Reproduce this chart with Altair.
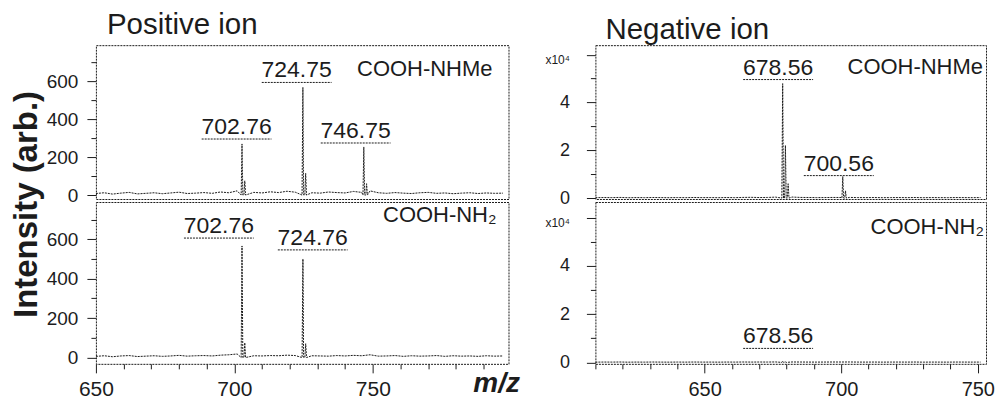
import altair as alt
import pandas as pd

FONT = "Liberation Sans"
INK = "#1c1c1c"
DOT = [2, 1]

# ---------------- data ----------------
# baseline sampling positions (m/z)
POS_GRID = [650, 653, 656, 659, 662, 665, 668, 671, 674, 677,
            680, 683, 686, 689, 692, 695, 698, 701, 704, 707,
            710, 713, 716, 719, 722, 725, 728, 731, 734, 737,
            740, 743, 746, 749, 752, 755, 758, 761, 764, 767,
            770, 773, 776, 779, 782, 785, 788, 791, 794, 797]
NEG_GRID = [610, 613, 616, 619, 622, 625, 628, 631, 634, 637,
            640, 643, 646, 649, 652, 655, 658, 661, 664, 667,
            670, 673, 676, 679, 682, 685, 688, 691, 694, 697,
            700, 703, 706, 709, 712, 715, 718, 721, 724, 727,
            730, 733, 736, 739, 742, 745, 748, 751]

# baseline noise (arb. / counts)
POS_TOP_NOISE = [8, 12, 5, 10, 14, 6, 9, 12, 7, 11, 15, 8, 10, 13, 9, 16, 12, 22, 18, 14,
                 11, 17, 13, 20, 15, 24, 12, 10, 16, 13, 11, 19, 14, 22, 12, 9, 13, 10, 8, 12,
                 14, 9, 11, 7, 10, 12, 8, 11, 9, 10]
POS_BOT_NOISE = [6, 9, 4, 8, 10, 5, 7, 9, 6, 8, 11, 7, 9, 10, 8, 12, 14, 18, 12, 9,
                 8, 10, 9, 12, 10, 15, 9, 8, 7, 10, 8, 11, 9, 14, 7, 8, 10, 6, 9, 7,
                 8, 10, 6, 9, 7, 8, 6, 9, 7, 8]
NEG_TOP_NOISE = [150, 220, 180, 260, 140, 200, 170, 230, 190, 150,
                 210, 160, 240, 180, 200, 150, 220, 170, 260, 300,
                 210, 250, 380, 900, 420, 260, 230, 190, 210, 250,
                 230, 260, 200, 180, 220, 160, 190, 210, 170, 230,
                 150, 200, 180, 160, 210, 190, 170, 200]
NEG_BOT_NOISE = [100, 140, 120, 160, 90, 130, 110, 150, 120, 100,
                 140, 110, 150, 120, 130, 100, 140, 120, 160, 130,
                 150, 140, 180, 260, 170, 150, 130, 120, 140, 160,
                 150, 170, 130, 120, 140, 110, 130, 140, 120, 150,
                 100, 130, 120, 110, 140, 130, 120, 130]

# peaks (m/z, intensity)
POS_TOP_PEAK_MZ = [702.76, 703.76, 724.75, 725.75, 746.75, 747.75]
POS_TOP_PEAK_I = [270, 75, 569, 115, 254, 60]
POS_BOT_PEAK_MZ = [702.76, 703.76, 724.76, 725.76]
POS_BOT_PEAK_I = [566, 75, 500, 70]
NEG_TOP_PEAK_MZ = [678.56, 679.56, 680.56, 700.56, 701.56]
NEG_TOP_PEAK_I = [47900, 22000, 6000, 9000, 3000]
NEG_BOT_PEAK_MZ = [678.56, 679.56]
NEG_BOT_PEAK_I = [500, 200]

# peak annotations: text, label centre (m/z), underline level (intensity)
POS_TOP_LABELS = ["702.76", "724.75", "746.75"]
POS_TOP_LABEL_MZ = [700.8, 722.5, 743.8]
POS_TOP_LABEL_I = [296, 595, 275]
POS_BOT_LABELS = ["702.76", "724.76"]
POS_BOT_LABEL_MZ = [694.4, 728.3]
POS_BOT_LABEL_I = [606, 546]
NEG_TOP_LABELS = ["678.56", "700.56"]
NEG_TOP_LABEL_MZ = [676.9, 699.1]
NEG_TOP_LABEL_I = [49600, 9400]
NEG_BOT_LABELS = ["678.56"]
NEG_BOT_LABEL_MZ = [676.9]
NEG_BOT_LABEL_I = [5800]

CAPTIONS = ["COOH-NHMe", "COOH-NH\u2082"]
TITLES = ["Positive ion", "Negative ion"]
Y_TITLE = "Intensity (arb.)"
X_TITLE = "m/z"

POS_X_DOMAIN = [650, 799]
NEG_X_DOMAIN = [610, 753]
POS_TOP_Y = [-21, 792]
POS_BOT_Y = [-32, 789]
NEG_TOP_Y = [-400, 64000]
NEG_BOT_Y = [-600, 66460]

# ---------------- layout (pixels) ----------------
PW_L, PW_R = 413, 391
PH_TOP, PH_BOT, PH_HDR = 154, 162, 33


# ---------------- helpers ----------------
def spectrum_frame(grid, noise, pk_mz, pk_i):
    pts = list(zip(grid, noise))
    for m, v in zip(pk_mz, pk_i):
        pts += [(m - 0.3, 0), (m, v), (m + 0.3, 0)]
    pts.sort()
    return pd.DataFrame(pts, columns=["mz", "inten"])


def panel(grid, noise, pk_mz, pk_i, lab, lab_mz, lab_i, caption, cap_x, cap_y,
          xdom, ydom, w, h, xaxis, yaxis, half):
    xs = alt.Scale(domain=xdom, nice=False, zero=False)
    ys = alt.Scale(domain=ydom, nice=False, zero=False)
    spec = spectrum_frame(grid, noise, pk_mz, pk_i)
    line = alt.Chart(spec).mark_line(color=INK, strokeWidth=1, strokeDash=DOT, clip=True).encode(
        x=alt.X("mz:Q", scale=xs, axis=xaxis),
        y=alt.Y("inten:Q", scale=ys, axis=yaxis),
    )
    ld = pd.DataFrame({"txt": lab, "lm": lab_mz, "li": lab_i})
    ld["x1"] = ld["lm"] - half
    ld["x2"] = ld["lm"] + half
    under = alt.Chart(ld).mark_rule(color=INK, strokeWidth=1, strokeDash=DOT).encode(
        x=alt.X("x1:Q", scale=xs, axis=xaxis),
        x2="x2:Q",
        y=alt.Y("li:Q", scale=ys, axis=yaxis),
    )
    txt = alt.Chart(ld).mark_text(font=FONT, fontSize=23, color=INK, baseline="alphabetic", dy=-5).encode(
        x=alt.X("lm:Q", scale=xs, axis=xaxis),
        y=alt.Y("li:Q", scale=ys, axis=yaxis),
        text="txt:N",
    )
    cap = alt.Chart(pd.DataFrame({"c": [caption]})).mark_text(
        font=FONT, fontSize=22, align="right", baseline="alphabetic", color=INK
    ).encode(x=alt.value(cap_x), y=alt.value(cap_y), text="c:N")
    return alt.layer(line, under, txt, cap).properties(width=w, height=h)


def header(text, x, y, w, h):
    return alt.Chart(pd.DataFrame({"t": [text]})).mark_text(
        font=FONT, fontSize=29.5, align="left", baseline="alphabetic", color=INK
    ).encode(x=alt.value(x), y=alt.value(y), text="t:N").properties(
        width=w, height=h, view=alt.ViewBackground(stroke="transparent")
    )


def pos_y_axis(with_title):
    kw = dict(
        values=list(range(0, 800, 100)),
        labelExpr="datum.value % 200 == 0 ? datum.label : ''",
        tickSize={"condition": {"test": "datum.value % 200 == 0", "value": 9}, "value": 5},
        labelFontSize=19, labelFont=FONT, labelColor=INK, labelPadding=9,
        tickColor=INK, domain=False, grid=False, labelOverlap=False,
    )
    if with_title:
        kw.update(title=Y_TITLE, titleFont=FONT, titleFontSize=33, titleFontWeight="bold",
                  titleColor=INK, titleAngle=270, titleAlign="center", titleBaseline="middle",
                  titleX=-69.5, titleY=159)
    else:
        kw.update(title=None)
    return alt.Axis(**kw)


def neg_y_axis():
    return alt.Axis(
        values=list(range(0, 70000, 10000)),
        labelExpr="datum.value == 60000 ? 'x10\u2074' : (datum.value % 20000 == 0 ? format(datum.value / 10000, 'd') : '')",
        tickSize={"condition": {"test": "datum.value % 20000 == 0", "value": 9}, "value": 5},
        labelFontSize={"condition": {"test": "datum.value == 60000", "value": 12}, "value": 18},
        labelBaseline={"condition": {"test": "datum.value == 60000", "value": "top"}, "value": "middle"},
        labelFont=FONT, labelColor=INK, labelPadding=17,
        tickColor=INK, domain=False, grid=False, title=None, labelOverlap=False,
    )


def pos_x_axis():
    return alt.Axis(
        values=list(range(650, 800, 10)),
        labelExpr="datum.value % 50 == 0 ? datum.label : ''",
        tickSize={"condition": {"test": "datum.value % 50 == 0", "value": 9}, "value": 5},
        labelFontSize=21, labelFont=FONT, labelColor=INK, labelPadding=6,
        tickColor=INK, domain=False, grid=False, labelOverlap=False, labelFlush=False,
        title=X_TITLE, titleFont=FONT, titleFontSize=28, titleFontWeight="bold",
        titleFontStyle="italic", titleAlign="right", titleBaseline="alphabetic",
        titleX=424, titleY=28, titleColor=INK,
    )


def neg_x_axis():
    return alt.Axis(
        values=list(range(610, 760, 10)),
        labelExpr="datum.value % 50 == 0 ? datum.label : ''",
        tickSize={"condition": {"test": "datum.value % 50 == 0", "value": 9}, "value": 5},
        labelFontSize=20, labelFont=FONT, labelColor=INK, labelPadding=7,
        tickColor=INK, domain=False, grid=False, labelOverlap=False, labelFlush=False,
        title=None,
    )


top_l = panel(POS_GRID, POS_TOP_NOISE, POS_TOP_PEAK_MZ, POS_TOP_PEAK_I,
              POS_TOP_LABELS, POS_TOP_LABEL_MZ, POS_TOP_LABEL_I,
              CAPTIONS[0], 397, 31, POS_X_DOMAIN, POS_TOP_Y, PW_L, PH_TOP,
              None, pos_y_axis(True), 12.6)
bot_l = panel(POS_GRID, POS_BOT_NOISE, POS_BOT_PEAK_MZ, POS_BOT_PEAK_I,
              POS_BOT_LABELS, POS_BOT_LABEL_MZ, POS_BOT_LABEL_I,
              CAPTIONS[1], 401, 20, POS_X_DOMAIN, POS_BOT_Y, PW_L, PH_BOT,
              pos_x_axis(), pos_y_axis(False), 12.6)
top_r = panel(NEG_GRID, NEG_TOP_NOISE, NEG_TOP_PEAK_MZ, NEG_TOP_PEAK_I,
              NEG_TOP_LABELS, NEG_TOP_LABEL_MZ, NEG_TOP_LABEL_I,
              CAPTIONS[0], 388, 29, NEG_X_DOMAIN, NEG_TOP_Y, PW_R, PH_TOP,
              None, neg_y_axis(), 12.8)
bot_r = panel(NEG_GRID, NEG_BOT_NOISE, NEG_BOT_PEAK_MZ, NEG_BOT_PEAK_I,
              NEG_BOT_LABELS, NEG_BOT_LABEL_MZ, NEG_BOT_LABEL_I,
              CAPTIONS[1], 389, 32, NEG_X_DOMAIN, NEG_BOT_Y, PW_R, PH_BOT,
              neg_x_axis(), neg_y_axis(), 12.8)

hdr_l = header(TITLES[0], 11, 25, PW_L, PH_HDR)
hdr_r = header(TITLES[1], 10, 30, PW_R, PH_HDR)

chart = alt.concat(
    hdr_l, hdr_r, top_l, top_r, bot_l, bot_r,
    columns=2, spacing={"row": 3, "column": 87}, bounds="flush", align="each",
).properties(
    padding={"left": 2, "top": 0, "right": 0, "bottom": 0}, background="white"
).configure(font=FONT).configure_view(
    stroke=INK, strokeDash=DOT, strokeWidth=1
)

chart.save("out.html", embed_options={"renderer": "svg", "actions": False})
